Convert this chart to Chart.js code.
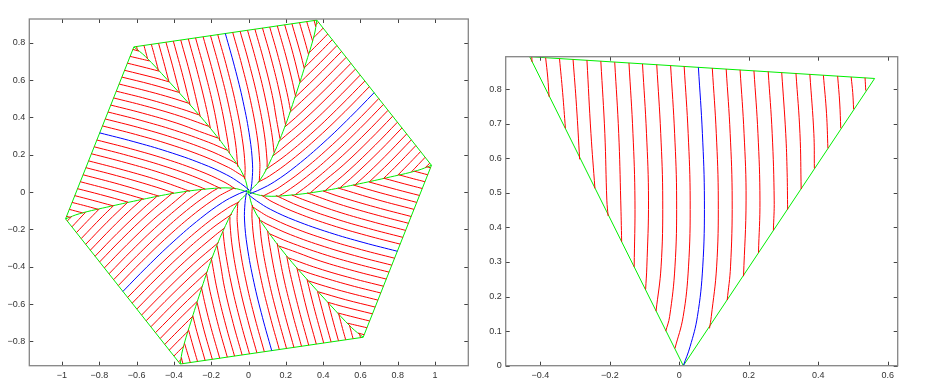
<!DOCTYPE html>
<html>
<head>
<meta charset="utf-8">
<script src="https://cdn.jsdelivr.net/npm/chart.js@4.4.1/dist/chart.umd.min.js"></script>
<style>
  body { margin: 0; background: #fff; }
  #wrap { position: relative; width: 946px; height: 387px; }
  #leftBox { position: absolute; left: 0; top: 0; width: 480px; height: 387px; }
  #rightBox { position: absolute; left: 480px; top: 0; width: 466px; height: 387px; }
</style>
</head>
<body>
<div id="wrap">
  <div id="leftBox"><canvas id="leftChart" width="480" height="387"></canvas></div>
  <div id="rightBox"><canvas id="rightChart" width="466" height="387"></canvas></div>
</div>
<script>
// right panel: one triangle
const sectorCorners = [[0.0115, 0], [-0.431, 0.894], [0.5625, 0.831]];

const blueFiber = [[0.055, 0.863], [0.0665, 0.672], [0.0723, 0.479], [0.0675, 0.286], [0.0521, 0.142], [0.031, 0.055], [0.0115, 0]];

const redFibers = [
    [[-0.425, 0.894], [-0.424, 0.879]],
    [[-0.385, 0.891], [-0.379, 0.835], [-0.375, 0.778]],
    [[-0.345, 0.888], [-0.336, 0.790], [-0.328, 0.687]],
    [[-0.306, 0.886], [-0.296, 0.750], [-0.287, 0.597]],
    [[-0.266, 0.884], [-0.2545, 0.672], [-0.243, 0.513]],
    [[-0.226, 0.881], [-0.2145, 0.672], [-0.2087, 0.479], [-0.205, 0.433]],
    [[-0.186, 0.878], [-0.1745, 0.672], [-0.1687, 0.479], [-0.166, 0.359]],
    [[-0.145, 0.876], [-0.1335, 0.672], [-0.1277, 0.479], [-0.130, 0.286]],
    [[-0.106, 0.873], [-0.0945, 0.672], [-0.0887, 0.479], [-0.0935, 0.286], [-0.097, 0.221]],
    [[-0.065, 0.871], [-0.0535, 0.672], [-0.0477, 0.479], [-0.0525, 0.286], [-0.067, 0.158]],
    [[-0.025, 0.868], [-0.0135, 0.672], [-0.0077, 0.479], [-0.0125, 0.286], [-0.0279, 0.142], [-0.039, 0.100]],
    [[0.014, 0.866], [0.0255, 0.672], [0.0313, 0.479], [0.0265, 0.286], [0.0111, 0.142], [-0.0125, 0.050]],
    [[0.095, 0.861], [0.1065, 0.672], [0.1123, 0.479], [0.1075, 0.286], [0.0921, 0.142], [0.087, 0.108]],
    [[0.135, 0.858], [0.1465, 0.672], [0.1523, 0.479], [0.1475, 0.286], [0.138, 0.190]],
    [[0.175, 0.856], [0.1865, 0.672], [0.1923, 0.479], [0.185, 0.259]],
    [[0.215, 0.853], [0.2265, 0.672], [0.2323, 0.479], [0.228, 0.327]],
    [[0.256, 0.851], [0.2675, 0.672], [0.2733, 0.479], [0.271, 0.392]],
    [[0.295, 0.848], [0.3065, 0.672], [0.3105, 0.560], [0.312, 0.452]],
    [[0.336, 0.846], [0.3475, 0.672], [0.351, 0.511]],
    [[0.376, 0.843], [0.3875, 0.672], [0.389, 0.571]],
    [[0.415, 0.840], [0.424, 0.730], [0.428, 0.629]],
    [[0.456, 0.838], [0.462, 0.760], [0.465, 0.687]],
    [[0.495, 0.835], [0.4995, 0.790], [0.502, 0.742]],
    [[0.535, 0.833], [0.537, 0.796]]
];

// left panel: one sector in the same frame; its side is curved (spoke)
const hexSpoke = [[0, 0], [0.0733, 0.05], [0.158, 0.15], [0.2619, 0.3], [0.352, 0.45], [0.4378, 0.6], [0.5197, 0.75], [0.5495, 0.8247]];
const hexEdge = [[-0.4394, 0.8883], [0.5495, 0.8247]];
const hexBlue = [[0.055, 0.8565], [0.0665, 0.672], [0.0723, 0.479], [0.0675, 0.286], [0.0521, 0.142], [0.031, 0.055], [0.0115, 0]];
const hexFibers = [
    [[-0.425, 0.8874], [-0.424, 0.8688]],
    [[-0.385, 0.8848], [-0.383, 0.85], [-0.381, 0.811]],
    [[-0.345, 0.8822], [-0.341, 0.82], [-0.337, 0.739]],
    [[-0.306, 0.8797], [-0.300, 0.78], [-0.2945, 0.669]],
    [[-0.266, 0.8771], [-0.258, 0.75], [-0.251, 0.597]],
    [[-0.226, 0.8745], [-0.2145, 0.672], [-0.2095, 0.522]],
    [[-0.186, 0.8719], [-0.1745, 0.672], [-0.169, 0.449]],
    [[-0.145, 0.8693], [-0.1335, 0.672], [-0.1277, 0.479], [-0.129, 0.378]],
    [[-0.106, 0.8668], [-0.0945, 0.672], [-0.0887, 0.479], [-0.093, 0.300]],
    [[-0.065, 0.8642], [-0.0535, 0.672], [-0.0477, 0.479], [-0.0525, 0.286], [-0.057, 0.225]],
    [[-0.025, 0.8616], [-0.0135, 0.672], [-0.0077, 0.479], [-0.0125, 0.286], [-0.028, 0.145]],
    [[0.014, 0.8591], [0.0255, 0.672], [0.0313, 0.479], [0.0265, 0.286], [0.0111, 0.142], [-0.0055, 0.072]],
    [[0.095, 0.8539], [0.1065, 0.672], [0.1123, 0.479], [0.1075, 0.286], [0.0921, 0.142], [0.083, 0.1], [0.069, 0.047]],
    [[0.135, 0.8514], [0.1465, 0.672], [0.1523, 0.479], [0.1475, 0.286], [0.132, 0.142], [0.125, 0.111]],
    [[0.175, 0.8488], [0.1865, 0.672], [0.1923, 0.479], [0.1875, 0.286], [0.178, 0.178]],
    [[0.215, 0.8462], [0.2265, 0.672], [0.2323, 0.479], [0.2275, 0.35], [0.2245, 0.245]],
    [[0.256, 0.8436], [0.2675, 0.672], [0.2733, 0.479], [0.269, 0.312]],
    [[0.295, 0.8411], [0.3065, 0.672], [0.3123, 0.479], [0.311, 0.382]],
    [[0.336, 0.8384], [0.3475, 0.672], [0.3525, 0.55], [0.3533, 0.452]],
    [[0.376, 0.8358], [0.3875, 0.672], [0.3925, 0.521]],
    [[0.415, 0.8333], [0.4265, 0.672], [0.430, 0.586]],
    [[0.456, 0.8307], [0.462, 0.75], [0.468, 0.655]],
    [[0.495, 0.8282], [0.4995, 0.775], [0.504, 0.722]],
    [[0.535, 0.8256], [0.5365, 0.792]]
];

// the hexagon = that sector turned by these angles (degrees)
const hexRotations = [12, 72, 132, 192, 252, 312];

const leftXTicks = [-1, -0.8, -0.6, -0.4, -0.2, 0, 0.2, 0.4, 0.6, 0.8, 1];
const leftYTicks = [-0.8, -0.6, -0.4, -0.2, 0, 0.2, 0.4, 0.6, 0.8];
const rightXTicks = [-0.4, -0.2, 0, 0.2, 0.4, 0.6];
const rightYTicks = [0, 0.1, 0.2, 0.3, 0.4, 0.5, 0.6, 0.7, 0.8];

const RED = '#ff0000', BLUE = '#0000ff', GREEN = '#00ee00';

function rotate(pts, deg) {
    const a = deg * Math.PI / 180, c = Math.cos(a), s = Math.sin(a);
    return pts.map(function (p) { return { x: p[0] * c - p[1] * s, y: p[0] * s + p[1] * c }; });
}

function lineSet(pts, color, tension) {
    return {
        data: pts, showLine: true, borderColor: color, borderWidth: 1,
        pointRadius: 0, tension: tension, fill: false
    };
}

function triangleSets() {
    var sets = [];
    redFibers.forEach(function (f) { sets.push(lineSet(rotate(f, 0), RED, 0.4)); });
    sets.push(lineSet(rotate(blueFiber, 0), BLUE, 0.4));
    sets.push(lineSet(rotate(sectorCorners.concat([sectorCorners[0]]), 0), GREEN, 0));
    return sets;
}

function hexSectorSets(deg) {
    var sets = [];
    hexFibers.forEach(function (f) { sets.push(lineSet(rotate(f, deg), RED, 0.4)); });
    sets.push(lineSet(rotate(hexBlue, deg), BLUE, 0.4));
    sets.push(lineSet(rotate(hexSpoke, deg), GREEN, 0.4));
    sets.push(lineSet(rotate(hexEdge, deg), GREEN, 0));
    return sets;
}

function fmt(v) {
    var s = String(+v.toFixed(1));
    return s.replace('-', '\u2212');
}

// MATLAB-like box with inward ticks on all four sides
const framePlugin = {
    id: 'frame',
    afterDatasetsDraw: function (chart, args, opts) {
        const ctx = chart.ctx, a = chart.chartArea;
        const xs = chart.scales.x, ys = chart.scales.y;
        ctx.save();
        ctx.strokeStyle = '#444';
        ctx.lineWidth = 1;
        ctx.beginPath();
        opts.xTicks.forEach(function (v) {
            const px = Math.round(xs.getPixelForValue(v)) + 0.5;
            ctx.moveTo(px, a.bottom); ctx.lineTo(px, a.bottom - 4);
            ctx.moveTo(px, a.top); ctx.lineTo(px, a.top + 4);
        });
        opts.yTicks.forEach(function (v) {
            const py = Math.round(ys.getPixelForValue(v)) + 0.5;
            ctx.moveTo(a.left, py); ctx.lineTo(a.left + 4, py);
            ctx.moveTo(a.right, py); ctx.lineTo(a.right - 4, py);
        });
        ctx.stroke();
        ctx.strokeStyle = '#858585';
        ctx.lineWidth = 1.3;
        ctx.strokeRect(a.left, a.top, a.right - a.left, a.bottom - a.top);
        ctx.restore();
    }
};

function makeChart(id, datasets, xr, yr, xTicks, yTicks, yWidth, xHeight, pad) {
    return new Chart(document.getElementById(id), {
        type: 'scatter',
        data: { datasets: datasets },
        plugins: [framePlugin],
        options: {
            responsive: false,
            animation: false,
            events: [],
            layout: { padding: pad },
            plugins: {
                legend: { display: false },
                tooltip: { enabled: false },
                frame: { xTicks: xTicks, yTicks: yTicks }
            },
            scales: {
                x: {
                    type: 'linear', min: xr[0], max: xr[1],
                    grid: { display: false, drawTicks: false },
                    border: { display: false },
                    afterBuildTicks: function (s) { s.ticks = xTicks.map(function (v) { return { value: v }; }); },
                    afterFit: function (s) { s.height = xHeight; },
                    ticks: {
                        padding: 4, maxRotation: 0, autoSkip: false,
                        color: '#333', font: { family: 'Liberation Sans', size: 9 },
                        callback: function (v) { return fmt(v); }
                    }
                },
                y: {
                    type: 'linear', min: yr[0], max: yr[1],
                    grid: { display: false, drawTicks: false },
                    border: { display: false },
                    afterBuildTicks: function (s) { s.ticks = yTicks.map(function (v) { return { value: v }; }); },
                    afterFit: function (s) { s.width = yWidth; },
                    ticks: {
                        padding: 4, autoSkip: false,
                        color: '#333', font: { family: 'Liberation Sans', size: 9 },
                        callback: function (v) { return fmt(v); }
                    }
                }
            }
        }
    });
}

var leftSets = [];
hexRotations.forEach(function (d) { leftSets = leftSets.concat(hexSectorSets(d)); });

makeChart('leftChart', leftSets, [-1.175, 1.178], [-0.93, 0.927],
    leftXTicks, leftYTicks, 29.3, 21.3, { left: 0, top: 19, right: 11.7, bottom: 0 });

makeChart('rightChart', triangleSets(), [-0.5, 0.629], [0, 0.894],
    rightXTicks, rightYTicks, 25.7, 21.3, { left: 0, top: 56.7, right: 48.3, bottom: 0 });
</script>
</body>
</html>
